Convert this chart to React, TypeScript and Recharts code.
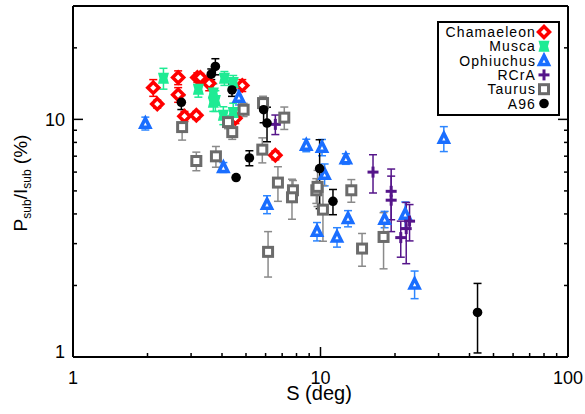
import { ErrorBar, Legend, Scatter, ScatterChart, XAxis, YAxis } from "recharts";

const FONT = "'Liberation Sans', Arial, Helvetica, sans-serif";

// axis ticks (log axes)
const X_TICKS = [1, 2, 3, 4, 5, 6, 7, 8, 9, 10, 20, 30, 40, 50, 60, 70, 80, 90, 100];
const Y_TICKS = [1, 2, 3, 4, 5, 6, 7, 8, 9, 10, 20];
const MAJOR = [1, 10, 100];

// Chamaeleon
const CHA_S = [2.11, 2.19, 2.66, 2.66, 2.82, 3.15, 3.18, 3.27, 3.55, 4.53, 4.83, 6.57];
const CHA_P = [13.6, 11.6, 15.0, 12.7, 10.3, 10.4, 15.0, 15.0, 14.2, 10.1, 13.9, 7.06];
const CHA_E = [1.1, 0.45, 1.0, 0.9, 0.5, 0.4, 0.7, 0.6, 1.0, 0.5, 0.8, 0.3];

// Musca
const MUS_S = [2.32, 3.21, 3.69, 3.76, 3.69, 4.09, 4.44, 4.05, 4.44];
const MUS_P = [14.9, 13.4, 12.9, 12.0, 11.8, 14.9, 14.3, 10.4, 10.7];
const MUS_E = [1.5, 1.0, 1.2, 1.2, 1.0, 1.0, 1.0, 0.9, 1.0];

// Ophiuchus
const OPH_S = [1.96, 4.05, 4.68, 6.08, 8.76, 10.14, 10.39, 9.68, 11.66, 12.66, 12.92, 18.16, 22.0, 24.0, 31.5];
const OPH_P = [9.62, 6.28, 12.4, 4.39, 7.78, 7.63, 5.87, 3.38, 3.2, 6.82, 3.83, 3.8, 3.99, 2.03, 8.32];
const OPH_E = [0.6, 0.3, 0.9, 0.38, 0.47, 0.6, 0.62, 0.3, 0.3, 0.35, 0.3, 0.3, 0.5, 0.27, 1.0];

// RCrA
const RCR_S = [6.57, 16.3, 19.3, 19.3, 21.1, 22.2, 22.9];
const RCR_P = [9.53, 6.0, 4.98, 4.57, 3.18, 3.47, 3.73];
const RCR_E = [0.9, 1.1, 1.2, 1.2, 0.55, 1.0, 0.65];

// Taurus
const TAU_S = [2.76, 3.15, 3.78, 4.23, 4.4, 4.89, 5.86, 7.14, 5.82, 6.73, 7.74, 7.67, 9.62, 9.73, 10.23, 13.32, 14.72, 17.98, 6.14];
const TAU_P = [9.28, 6.68, 6.99, 9.74, 8.84, 10.98, 11.71, 10.17, 7.46, 5.42, 5.03, 4.7, 5.03, 5.2, 4.17, 5.03, 2.86, 3.2, 2.77];
const TAU_E = [1.1, 0.6, 0.7, 0.6, 0.6, 0.7, 0.8, 1.1, 0.9, 0.9, 0.5, 0.9, 0.6, 0.9, 1.1, 0.55, 0.45, 0.85, 0.6];

// A96
const A96_S = [2.74, 3.62, 3.76, 4.39, 4.56, 5.16, 5.89, 6.08, 9.92, 11.23, 43.1];
const A96_P = [11.8, 15.5, 16.7, 13.3, 5.69, 6.88, 10.98, 9.65, 6.21, 4.52, 1.54];
const A96_E = [0.8, 0.8, 1.3, 0.8, 0, 0.5, 1.3, 1.6, 2.0, 0.55, 0.5];

const rows = (s: number[], p: number[], e: number[]) =>
  s.map((x, i) => ({ x, y: p[i], err: e[i] }));

const SERIES = [
  { name: "Chamaeleon", kind: "diamond", color: "#ff0000", errColor: "#ff0000", data: rows(CHA_S, CHA_P, CHA_E) },
  { name: "Musca", kind: "bowtie", color: "#1eeb94", errColor: "#1eeb94", data: rows(MUS_S, MUS_P, MUS_E) },
  { name: "Ophiuchus", kind: "triangle", color: "#1a6eff", errColor: "#2d86ff", data: rows(OPH_S, OPH_P, OPH_E) },
  { name: "RCrA", kind: "plus", color: "#55158a", errColor: "#55158a", data: rows(RCR_S, RCR_P, RCR_E) },
  { name: "Taurus", kind: "square", color: "#6b6b6b", errColor: "#8a8a8a", data: rows(TAU_S, TAU_P, TAU_E) },
  { name: "A96", kind: "circle", color: "#000000", errColor: "#000000", data: rows(A96_S, A96_P, A96_E) },
];

function Marker({ kind, cx, cy, color }: { kind: string; cx: number; cy: number; color: string }) {
  if (kind === "diamond")
    return <polygon points={`${cx},${cy - 5.5} ${cx + 5.5},${cy} ${cx},${cy + 5.5} ${cx - 5.5},${cy}`} fill="#fff" stroke={color} strokeWidth={3.5} />;
  if (kind === "bowtie")
    return (
      <polygon
        points={`${cx - 5.5},${cy - 5.5} ${cx + 5.5},${cy - 5.5} ${cx + 4},${cy} ${cx + 5.5},${cy + 5.5} ${cx - 5.5},${cy + 5.5} ${cx - 4},${cy}`}
        fill={color}
      />
    );
  if (kind === "triangle")
    return <polygon points={`${cx},${cy - 5} ${cx + 4.5},${cy + 4} ${cx - 4.5},${cy + 4}`} fill="#fff" stroke={color} strokeWidth={3.5} />;
  if (kind === "plus")
    return (
      <g stroke={color} strokeWidth={3}>
        <line x1={cx - 5.5} x2={cx + 5.5} y1={cy} y2={cy} />
        <line x1={cx} x2={cx} y1={cy - 5.5} y2={cy + 5.5} />
      </g>
    );
  if (kind === "square")
    return <rect x={cx - 4.5} y={cy - 4.5} width={9} height={9} fill="#fff" stroke={color} strokeWidth={3} />;
  return <circle cx={cx} cy={cy} r={4.8} fill={color} />;
}

// ticks are drawn inward; labels only on the left / bottom axes
function XTick({ x, y, payload, side }: any) {
  const major = MAJOR.includes(payload.value);
  const len = major ? 10 : 4;
  const dir = side === "bottom" ? -1 : 1;
  return (
    <g>
      <line x1={x} x2={x} y1={y} y2={y + dir * len} stroke="#000" strokeWidth={1.5} />
      {side === "bottom" && major && (
        <text x={x} y={y + 27} textAnchor="middle" fontFamily={FONT} fontSize={18} fill="#000">
          {payload.value}
        </text>
      )}
    </g>
  );
}

function YTick({ x, y, payload, side }: any) {
  const major = MAJOR.includes(payload.value);
  const len = major ? 10 : 4;
  const dir = side === "left" ? 1 : -1;
  return (
    <g>
      <line x1={x} x2={x + dir * len} y1={y} y2={y} stroke="#000" strokeWidth={1.5} />
      {side === "left" && major && (
        <text x={x - 8} y={payload.value === 1 ? y + 1 : y + 7} textAnchor="end" fontFamily={FONT} fontSize={18} fill="#000">
          {payload.value}
        </text>
      )}
    </g>
  );
}

function LegendBox() {
  return (
    <svg width={123} height={95} style={{ display: "block" }}>
      <rect x={1} y={1} width={121} height={93} fill="#fff" stroke="#000" strokeWidth={2} />
      {SERIES.map((s, i) => {
        const cy = 11 + i * 14.3;
        return (
          <g key={s.name}>
            <text x={99} y={cy + 5} textAnchor="end" fontFamily={FONT} fontSize={14} letterSpacing={1.1} fill="#000">
              {s.name}
            </text>
            <Marker kind={s.kind} cx={107} cy={cy} color={s.color} />
          </g>
        );
      })}
    </svg>
  );
}

function YTitle() {
  return (
    <text x={27} y={183} transform="rotate(-90, 27, 183)" textAnchor="middle" fontFamily={FONT} fontSize={19} fill="#000">
      P
      <tspan fontSize={12} dy={4}>sub</tspan>
      <tspan dy={-4}>/I</tspan>
      <tspan fontSize={12} dy={4}>sub</tspan>
      <tspan dy={-4}> (%)</tspan>
    </text>
  );
}

function XTitle() {
  return (
    <text x={319} y={400} textAnchor="middle" fontFamily={FONT} fontSize={20} fill="#000">
      S (deg)
    </text>
  );
}

export default function App() {
  const axisLine = { stroke: "#000", strokeWidth: 2 };
  return (
    <div style={{ position: "absolute", left: 0, top: 0, width: 585, height: 414, background: "#fff" }}>
      <ScatterChart width={585} height={414} margin={{ top: 0, right: 0, bottom: 0, left: 0 }}>
        <XAxis
          dataKey="x"
          type="number"
          scale="log"
          domain={[1, 100]}
          allowDataOverflow
          ticks={X_TICKS}
          interval={0}
          height={57}
          tickSize={0}
          tickMargin={0}
          tickLine={false}
          axisLine={axisLine}
          tick={<XTick side="bottom" />}
          label={<XTitle />}
        />
        <XAxis
          xAxisId="top"
          orientation="top"
          type="number"
          scale="log"
          domain={[1, 100]}
          allowDataOverflow
          ticks={X_TICKS}
          interval={0}
          height={6}
          tickSize={0}
          tickMargin={0}
          tickLine={false}
          axisLine={axisLine}
          tick={<XTick side="top" />}
        />
        <YAxis
          dataKey="y"
          type="number"
          scale="log"
          domain={[1, 30]}
          allowDataOverflow
          ticks={Y_TICKS}
          interval={0}
          width={73}
          tickSize={0}
          tickMargin={0}
          tickLine={false}
          axisLine={axisLine}
          tick={<YTick side="left" />}
          label={<YTitle />}
        />
        <YAxis
          yAxisId="right"
          orientation="right"
          type="number"
          scale="log"
          domain={[1, 30]}
          allowDataOverflow
          ticks={Y_TICKS}
          interval={0}
          width={17}
          tickSize={0}
          tickMargin={0}
          tickLine={false}
          axisLine={axisLine}
          tick={<YTick side="right" />}
        />
        {SERIES.map((s) => (
          <Scatter
            key={s.name}
            name={s.name}
            data={s.data}
            isAnimationActive={false}
            shape={(p: any) => <Marker kind={s.kind} cx={p.cx} cy={p.cy} color={s.color} />}
          >
            <ErrorBar dataKey="err" direction="y" width={4} stroke={s.errColor} strokeWidth={1.5} />
          </Scatter>
        ))}
        <Legend
          layout="vertical"
          align="center"
          verticalAlign="middle"
          content={<LegendBox />}
          wrapperStyle={{ top: 21, left: 437, width: 123, height: 95 }}
        />
      </ScatterChart>
    </div>
  );
}
